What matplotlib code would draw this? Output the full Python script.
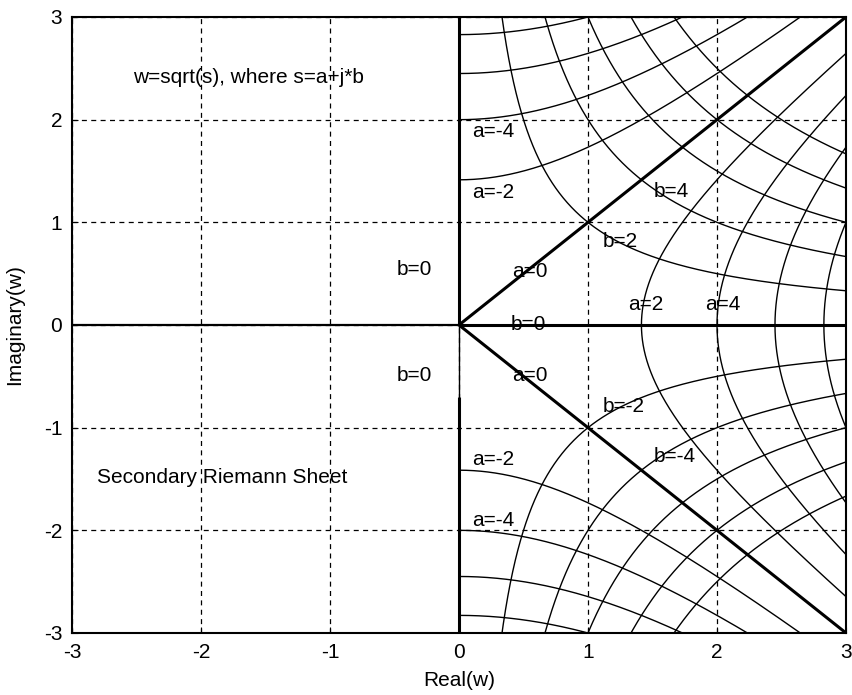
import matplotlib
matplotlib.use('Agg')
import matplotlib.pyplot as plt
import numpy as np

plt.rcParams['font.family'] = ['Liberation Sans', 'DejaVu Sans']
plt.rcParams['axes.unicode_minus'] = False

# contour levels of s = a + j*b drawn in the w = sqrt(s) plane
a_levels = [-8, -6, -4, -2, 2, 4, 6, 8]
b_levels = [-10, -8, -6, -4, -2, 2, 4, 6, 8, 10]
a_zero = 0
b_zero = 0

ticks = [-3, -2, -1, 0, 1, 2, 3]

# labels: (text, u, v)
curve_labels = [
    ('a=-4', 0.10, 1.88), ('a=-2', 0.10, 1.29), ('a=0', 0.41, 0.52),
    ('b=0', 0.40, 0.00), ('b=2', 1.11, 0.81), ('b=4', 1.51, 1.30),
    ('a=2', 1.31, 0.20), ('a=4', 1.91, 0.20),
    ('a=0', 0.41, -0.49), ('b=-2', 1.11, -0.79), ('b=-4', 1.51, -1.28),
    ('a=-2', 0.10, -1.31), ('a=-4', 0.10, -1.90),
    ('b=0', -0.48, 0.54), ('b=0', -0.48, -0.49),
]
title_text = ('w=sqrt(s), where s=a+j*b', -2.53, 2.41)
sheet_text = ('Secondary Riemann Sheet', -2.81, -1.49)

FS = 15

fig = plt.figure(figsize=(8.53, 6.95), dpi=100)
ax = fig.add_axes([72 / 853, 62 / 695, 774 / 853, 616 / 695])

t = np.linspace(1e-6, 40, 4000)
thin = dict(color='black', lw=1.0, solid_capstyle='butt')
thick = dict(color='black', lw=2.2, solid_capstyle='butt')

# a = const curves (upper and lower branch)
for a in a_levels:
    for sgn in (1, -1):
        w = np.sqrt(a + sgn * 1j * t)
        ax.plot(w.real, w.imag, **thin)

# b = const curves
ts = np.linspace(-40, 40, 8000)
for b in b_levels:
    w = np.sqrt(ts + 1j * b)
    ax.plot(w.real, w.imag, **thin)

# a = 0 (diagonals) thick
for sgn in (1, -1):
    w = np.sqrt(a_zero + sgn * 1j * t)
    ax.plot(w.real, w.imag, **thick)

# b = 0 thick: positive real axis and imaginary axis
tr = np.linspace(0, 9, 500)
w = np.sqrt(tr + 1j * b_zero)
ax.plot(w.real, w.imag, **thick)
tn = np.linspace(-9, 0, 500)
w = np.sqrt(tn + 1j * b_zero)
ax.plot(w.real, w.imag, **thick)
tl = np.linspace(-9, -0.49, 500)
w = np.conj(np.sqrt(tl + 1j * b_zero))
ax.plot(w.real, w.imag, **thick)
ax.plot([0, 0], [-0.7, 0], **thin)
# secondary sheet real axis
ax.plot([-3, 0], [0, 0], color='black', lw=1.6)

ax.set_xlim(-3, 3)
ax.set_ylim(-3, 3)
ax.set_xticks(ticks)
ax.set_yticks(ticks)
ax.grid(True, color='black', linestyle=(0, (4, 3.5)), lw=0.9)
ax.tick_params(direction='in', length=4, labelsize=FS, width=0.8, pad=7)
for sp in ax.spines.values():
    sp.set_linewidth(1.5)

for txt, u, v in curve_labels:
    ax.text(u, v, txt, fontsize=FS, ha='left', va='center')
ax.text(title_text[1], title_text[2], title_text[0], fontsize=FS, ha='left', va='center')
ax.text(sheet_text[1], sheet_text[2], sheet_text[0], fontsize=FS, ha='left', va='center')

ax.set_xlabel('Real(w)', fontsize=FS)
ax.set_ylabel('Imaginary(w)', fontsize=FS)
ax.xaxis.set_label_coords(0.5, -0.062)
ax.yaxis.set_label_coords(-0.062, 0.5)

fig.savefig('out.png', dpi=100)
